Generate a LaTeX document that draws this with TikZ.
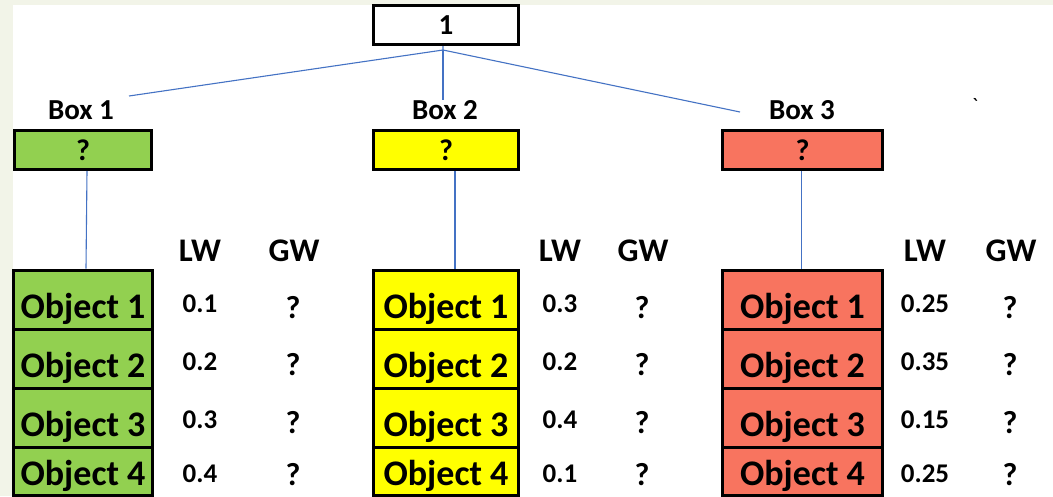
\documentclass[tikz,border=0pt]{standalone}
\usepackage{fontspec}
\setmainfont{Carlito}

\definecolor{bgstrip}{RGB}{242,244,232}
\definecolor{boxgreen}{RGB}{146,208,80}
\definecolor{boxyellow}{RGB}{255,255,0}
\definecolor{boxred}{RGB}{248,116,95}
\definecolor{linkblue}{RGB}{68,114,196}

\tikzset{
  link/.style={linkblue, line width=1.1pt},
  qbox/.style={draw, line width=3pt, inner sep=0pt, minimum height=39pt,
    font=\fontsize{30}{30}\selectfont\bfseries},
  boxlabel/.style={inner sep=0pt, font=\fontsize{29}{29}\selectfont\bfseries},
  cell/.style={draw, line width=3pt, inner sep=0pt, minimum height=59pt,
    text height=45pt, text depth=8pt, font=\fontsize{36}{36}\selectfont\bfseries},
  lastrow/.style={minimum height=48pt, text height=36pt},
  head/.style={inner sep=0pt, font=\fontsize{33}{33}\selectfont\bfseries},
  num/.style={inner sep=0pt, font=\fontsize{27}{27}\selectfont\bfseries},
  qmark/.style={inner sep=0pt, font=\fontsize{32}{32}\selectfont\bfseries}
}

\begin{document}
\begin{tikzpicture}[x=1pt, y=-1pt]

  % page and background strips
  \useasboundingbox (0,0) rectangle (1053,496);
  \fill[bgstrip] (0,0) rectangle (1053,496);
  \fill[white] (13,5) rectangle (1053,496);

  % top box
  \node[qbox, fill=white, minimum width=145pt, font=\fontsize{29}{29}\selectfont\bfseries] (top) at (446,25) {1};
  \coordinate (hub) at (443,50);

  % the three boxes
  \node[boxlabel] (lbla) at (81,110) {Box 1};
  \node[boxlabel] (lblb) at (445,110) {Box 2};
  \node[boxlabel] (lblc) at (802,110) {Box 3};
  \node[qbox, fill=boxgreen, minimum width=137pt] (boxa) at (83,150) {?};
  \node[qbox, fill=boxyellow, minimum width=145pt] (boxb) at (446,150) {?};
  \node[qbox, fill=boxred, minimum width=160pt] (boxc) at (802.5,150) {?};
  \node[inner sep=0pt, font=\fontsize{22}{22}\selectfont] (tick) at (975,106) {\textasciigrave};

  % links from the top box
  \coordinate (enda) at (129,96);
  \coordinate (endc) at (740,112);
  \draw[link] (top.south -| hub) -- (hub) -- (enda);
  \draw[link] (hub) -- (lblb.north -| hub);
  \draw[link] (hub) -- (endc);

  % object stacks
  \foreach \g/\x/\w/\c in {a/83/139/boxgreen, b/446/145/boxyellow, c/802.5/160/boxred}{
    \node[cell, fill=\c, minimum width=\w pt] (obj\g1) at (\x,299.5) {Object 1};
    \node[cell, fill=\c, minimum width=\w pt] (obj\g2) at (\x,358.5) {Object 2};
    \node[cell, fill=\c, minimum width=\w pt] (obj\g3) at (\x,417.5) {Object 3};
    \node[cell, lastrow, fill=\c, minimum width=\w pt] (obj\g4) at (\x,471) {Object 4};
  }

  % links from the boxes to their stacks
  \draw[link] ([xshift=4pt]boxa.south) -- ([xshift=3pt]obja1.north);
  \draw[link] ([xshift=9pt]boxb.south) -- ([xshift=9pt]objb1.north);
  \draw[link] ([xshift=-1pt]boxc.south) -- ([xshift=-1pt]objc1.north);

  % local and global weights
  \foreach \g/\lx/\gx/\va/\vb/\vc/\vd in {a/200/293/0.1/0.2/0.3/0.4, b/560/642/0.3/0.2/0.4/0.1, c/925/1010/0.25/0.35/0.15/0.25}{
    \node[head] (lw\g) at (\lx,251) {LW};
    \node[head] (gw\g) at (\gx+1,251) {GW};
    \node[num] (lw\g1) at (\lx,304) {\va};
    \node[num] (lw\g2) at (\lx,362) {\vb};
    \node[num] (lw\g3) at (\lx,420) {\vc};
    \node[num] (lw\g4) at (\lx,474) {\vd};
    \node[qmark] (gw\g1) at (\gx,308) {?};
    \node[qmark] (gw\g2) at (\gx,365) {?};
    \node[qmark] (gw\g3) at (\gx,423) {?};
    \node[qmark] (gw\g4) at (\gx,475) {?};
  }

\end{tikzpicture}
\end{document}
